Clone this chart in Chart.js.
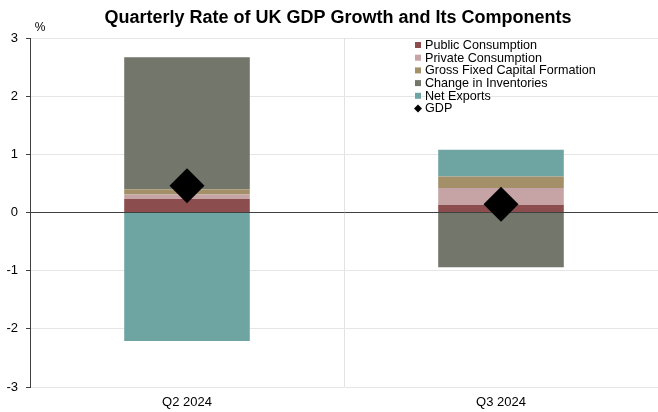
<!DOCTYPE html>
<html>
<head>
<meta charset="utf-8">
<title>UK GDP growth components</title>
<script src="https://cdn.jsdelivr.net/npm/chart.js@4/dist/chart.umd.min.js"></script>
<style>
  html, body { margin: 0; padding: 0; background: #fff; }
  #wrap { width: 658px; height: 412px; }
</style>
</head>
<body>
<div id="wrap"><canvas id="gdpChart" width="658" height="412"></canvas></div>
<script>
// Contributions to quarterly GDP growth, percentage points
const quarters = ["Q2 2024", "Q3 2024"];
const publicConsumption = [0.23, 0.13];
const privateConsumption = [0.08, 0.29];
const grossFixedCapital = [0.09, 0.20];
const changeInInventories = [2.27, -0.94];
const netExports = [-2.21, 0.46];
const gdpGrowth = [0.46, 0.14];
const yTicks = [-3, -2, -1, 0, 1, 2, 3];

const TITLE = "Quarterly Rate of UK GDP Growth and Its Components";
const FONT = "'Liberation Sans', Arial, sans-serif";

const components = [
  { label: "Public Consumption", data: publicConsumption, color: "#8b4d4e" },
  { label: "Private Consumption", data: privateConsumption, color: "#c6a4a6" },
  { label: "Gross Fixed Capital Formation", data: grossFixedCapital, color: "#a39069" },
  { label: "Change in Inventories", data: changeInInventories, color: "#72766b" },
  { label: "Net Exports", data: netExports, color: "#6ea5a3" },
];

const datasets = components.map(c => ({
  type: "bar",
  label: c.label,
  data: c.data,
  backgroundColor: c.color,
  borderWidth: 0,
  stack: "components",
  order: 2,
  barPercentage: 1,
  categoryPercentage: 0.4,
}));

datasets.push({
  type: "line",
  label: "GDP",
  data: gdpGrowth,
  stack: "gdp",
  order: 0,
  showLine: false,
  pointStyle: "rectRot",
  pointRadius: 17.5,
  pointHoverRadius: 17.5,
  pointBackgroundColor: "#000",
  pointBorderColor: "#000",
  pointBorderWidth: 0,
});

// title, unit label and a legend placed inside the plot, top right
const annotations = {
  id: "annotations",
  afterDatasetsDraw(chart) {
    const ctx = chart.ctx;
    ctx.save();
    ctx.fillStyle = "#000";
    ctx.textBaseline = "middle";
    ctx.textAlign = "center";
    ctx.font = "bold 18px " + FONT;
    ctx.fillText(TITLE, 338, 18.5);

    ctx.font = "12px " + FONT;
    ctx.fillText("%", 40, 28);

    const x0 = 415, y0 = 45, step = 12.7;
    ctx.textAlign = "left";
    ctx.font = "12.6px " + FONT;
    chart.data.datasets.forEach((ds, i) => {
      const y = y0 + i * step;
      if (ds.type === "line") {
        ctx.beginPath();
        ctx.moveTo(x0 + 3, y - 4);
        ctx.lineTo(x0 + 7, y);
        ctx.lineTo(x0 + 3, y + 4);
        ctx.lineTo(x0 - 1, y);
        ctx.closePath();
        ctx.fillStyle = "#000";
        ctx.fill();
      } else {
        ctx.fillStyle = ds.backgroundColor;
        ctx.fillRect(x0, y - 3, 6, 6);
      }
      ctx.fillStyle = "#000";
      ctx.fillText(ds.label, x0 + 10, y + 0.5);
    });
    ctx.restore();
  },
};

new Chart(document.getElementById("gdpChart"), {
  data: { labels: quarters, datasets },
  options: {
    responsive: false,
    animation: false,
    layout: { autoPadding: false, padding: { top: 38, left: 0, right: 0, bottom: 0 } },
    plugins: {
      legend: { display: false },
      tooltip: { enabled: false },
      title: { display: false },
    },
    scales: {
      x: {
        stacked: true,
        grid: {
          offset: true,
          color: ctx => (ctx.index === 1 ? "#e3e3e3" : "rgba(0,0,0,0)"),
          drawTicks: false,
        },
        border: { display: false },
        ticks: { color: "#000", font: { family: FONT, size: 13 }, padding: 8 },
        afterFit: s => { s.height = 25; },
      },
      y: {
        stacked: true,
        min: -3,
        max: 3,
        afterBuildTicks: s => { s.ticks = yTicks.map(v => ({ value: v })); },
        grid: {
          color: ctx => (ctx.tick && ctx.tick.value === 0 ? "#404040" : "#e6e6e6"),
          tickColor: "#404040",
          tickLength: 4,
        },
        border: { display: true, color: "#404040", width: 1 },
        ticks: { color: "#000", font: { family: FONT, size: 13 }, padding: 8 },
        afterFit: s => { s.width = 30; },
      },
    },
  },
  plugins: [annotations],
});
</script>
</body>
</html>
